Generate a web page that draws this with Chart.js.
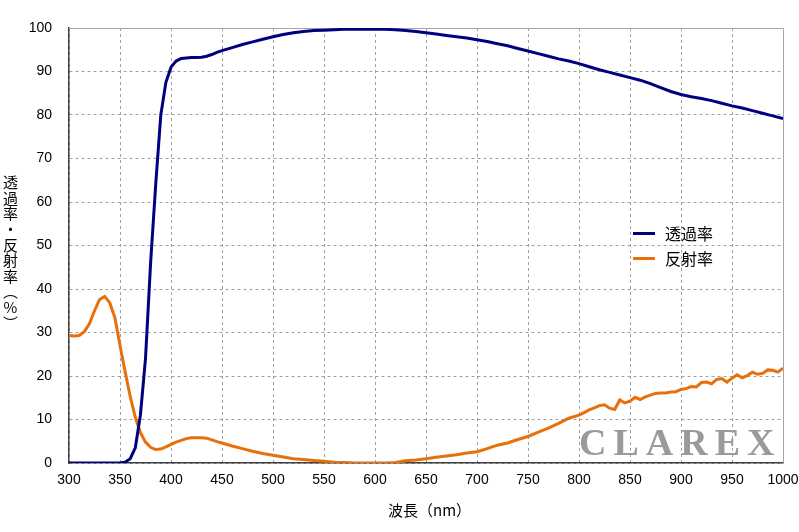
<!DOCTYPE html>
<html>
<head>
<meta charset="utf-8">
<script src="https://cdn.jsdelivr.net/npm/chart.js@4.4.1/dist/chart.umd.min.js"></script>
<style>
  html, body { margin: 0; padding: 0; background: #fff; }
  #wrap { position: relative; width: 799px; height: 532px; }
  #specChart { position: absolute; left: 0; top: 0; }
  .jp { font-family: "Noto Sans CJK JP", "Noto Sans", sans-serif; color: #000; position: absolute; }
  #yTitle { left: 2px; top: 175px; font-size: 15px; writing-mode: vertical-rl; text-orientation: upright; line-height: 16px; letter-spacing: 0.6px; }
  #xTitle { left: 388px; top: 499px; font-size: 15px; }
  .legRow { position: absolute; left: 633px; height: 20px; font-size: 16px; }
  .legRow i { position: absolute; left: 0; top: 9px; width: 22px; height: 3px; }
  .legRow span { position: absolute; left: 32px; top: -2px; white-space: nowrap; }
  #logo { position: absolute; left: 579px; top: 420px; font-family: "Liberation Serif", serif; font-weight: bold;
          font-size: 38px; letter-spacing: 7px; color: #9a9a9a; }
</style>
</head>
<body>
<div id="wrap">
  <canvas id="specChart" width="799" height="532"></canvas>
  <div id="logo">CLAREX</div>
  <div class="jp" id="yTitle">透過率・反射率（%）</div>
  <div class="jp" id="xTitle">波長（nm）</div>
  <div class="jp legRow" style="top:223px"><i style="background:#000080"></i><span>透過率</span></div>
  <div class="jp legRow" style="top:248px"><i style="background:#E8700A"></i><span>反射率</span></div>
</div>
<script>
// 透過率 (transmittance)
const waveT = [300, 305, 310, 315, 320, 325, 330, 335, 340, 345, 350, 355, 360, 365, 370, 375, 380, 385, 390, 395,
  400, 405, 410, 415, 420, 425, 430, 435, 440, 445, 450,
  460, 470, 480, 490, 500, 510, 520, 530, 540, 550, 560, 570, 580, 590, 600, 610, 620, 630, 640, 650,
  660, 670, 680, 690, 700, 710, 720, 730, 740, 750, 760, 770, 780, 790, 800, 810, 820, 830, 840, 850,
  860, 870, 880, 890, 900, 910, 920, 930, 940, 950, 960, 970, 980, 990, 1000];
const transT = [0, 0, 0, 0, 0, 0, 0, 0, 0, 0, 0, 0.2, 1, 3.5, 11, 24, 46, 64, 80, 87.5,
  91, 92.4, 93, 93.1, 93.2, 93.2, 93.3, 93.5, 93.9, 94.4, 94.8,
  95.5, 96.2, 96.8, 97.4, 98, 98.5, 98.9, 99.2, 99.4, 99.5, 99.6, 99.7, 99.7, 99.7, 99.7, 99.7, 99.6, 99.4, 99.2, 98.9,
  98.6, 98.3, 98, 97.7, 97.3, 96.9, 96.4, 95.9, 95.3, 94.7, 94.1, 93.5, 92.9, 92.4, 91.8, 91.1, 90.4, 89.8, 89.2, 88.6,
  88, 87.2, 86.3, 85.4, 84.7, 84.2, 83.8, 83.3, 82.7, 82.1, 81.6, 81, 80.4, 79.8, 79.2];

// 反射率 (reflectance)
const waveR = [300, 305, 310, 315, 320, 325, 330, 335, 340, 345, 350, 355, 360, 365, 370, 375, 380, 385, 390, 395,
  400, 405, 410, 415, 420, 425, 430, 435, 440, 445, 450,
  460, 470, 480, 490, 500, 510, 520, 530, 540, 550, 560, 570, 580, 590, 600, 610, 620, 630, 640, 650,
  660, 670, 680, 690, 700, 710, 720, 730, 740, 750, 760, 770, 780, 790, 800,
  805, 810, 815, 820, 825, 830, 835, 840, 845, 850, 855, 860, 865, 870, 875, 880, 885, 890, 895, 900,
  905, 910, 915, 920, 925, 930, 935, 940, 945, 950, 955, 960, 965, 970, 975, 980, 985, 990, 995, 1000];
const reflR = [29.3, 29.2, 29.3, 30.2, 32, 35, 37.6, 38.3, 36.8, 33.4, 27, 21, 15.3, 10.5, 7, 4.8, 3.6, 3.1, 3.2, 3.7,
  4.3, 4.8, 5.2, 5.6, 5.8, 5.8, 5.8, 5.7, 5.3, 4.9, 4.6,
  3.9, 3.3, 2.7, 2.2, 1.8, 1.4, 1.0, 0.8, 0.6, 0.4, 0.2, 0.1, 0, 0, 0, 0, 0.1, 0.5, 0.7, 1.0,
  1.3, 1.6, 1.9, 2.3, 2.6, 3.3, 4.1, 4.6, 5.4, 6.1, 7.1, 8.0, 9.1, 10.3, 11,
  11.6, 12.2, 12.7, 13.2, 13.4, 12.6, 12.3, 14.5, 13.8, 14.2, 15.1, 14.6, 15.2, 15.6, 16, 16.1, 16.1, 16.3, 16.4, 16.9,
  17.1, 17.6, 17.5, 18.5, 18.6, 18.2, 19.2, 19.4, 18.6, 19.5, 20.3, 19.6, 20.1, 20.9, 20.4, 20.6, 21.4, 21.3, 20.9, 21.8];

const xTicks = [300, 350, 400, 450, 500, 550, 600, 650, 700, 750, 800, 850, 900, 950, 1000];
const yTicks = [0, 10, 20, 30, 40, 50, 60, 70, 80, 90, 100];

const BLUE = "#000080";
const ORANGE = "#E8700A";

// top / right frame of the plot box
const frameLines = {
  id: "frameLines",
  beforeDatasetsDraw(chart) {
    const { ctx, chartArea: a } = chart;
    ctx.save();
    ctx.strokeStyle = "#a6a6a6";
    ctx.lineWidth = 1;
    ctx.beginPath();
    ctx.moveTo(a.left, a.top + 0.5);
    ctx.lineTo(a.right + 0.5, a.top + 0.5);
    ctx.lineTo(a.right + 0.5, a.bottom);
    ctx.stroke();
    ctx.restore();
  }
};

const pts = (xs, ys) => xs.map((x, i) => ({ x, y: ys[i] }));

new Chart(document.getElementById("specChart"), {
  type: "line",
  data: {
    datasets: [
      { label: "透過率", data: pts(waveT, transT), borderColor: BLUE, borderWidth: 3, pointRadius: 0, tension: 0 },
      { label: "反射率", data: pts(waveR, reflR), borderColor: ORANGE, borderWidth: 3, pointRadius: 0, tension: 0 },
    ],
  },
  options: {
    responsive: false,
    animation: false,
    layout: { padding: { top: 28, right: 16, left: 0, bottom: 0 } },
    plugins: { legend: { display: false }, tooltip: { enabled: false } },
    scales: {
      x: {
        type: "linear",
        min: 300, max: 1000,
        afterBuildTicks: s => { s.ticks = xTicks.map(v => ({ value: v })); },
        afterFit: s => { s.height = 69; s.paddingLeft = 0; s.paddingRight = 0; },
        ticks: { padding: 9, color: "#000", font: { family: "Liberation Sans", size: 14 }, maxRotation: 0,
                 callback: v => String(v) },
        grid: { color: "#a0a0a0", drawTicks: false },
        border: { display: true, color: "#404040", width: 1.5, dash: [3, 3] },
      },
      y: {
        min: 0, max: 100,
        afterBuildTicks: s => { s.ticks = yTicks.map(v => ({ value: v })); },
        afterFit: s => { s.width = 69; s.paddingTop = 0; s.paddingBottom = 0; },
        ticks: { padding: 17, color: "#000", font: { family: "Liberation Sans", size: 14 }, callback: v => String(v) },
        grid: { color: "#a0a0a0", drawTicks: false },
        border: { display: true, color: "#404040", width: 1.5, dash: [3, 3] },
      },
    },
  },
  plugins: [frameLines],
});
</script>
</body>
</html>
